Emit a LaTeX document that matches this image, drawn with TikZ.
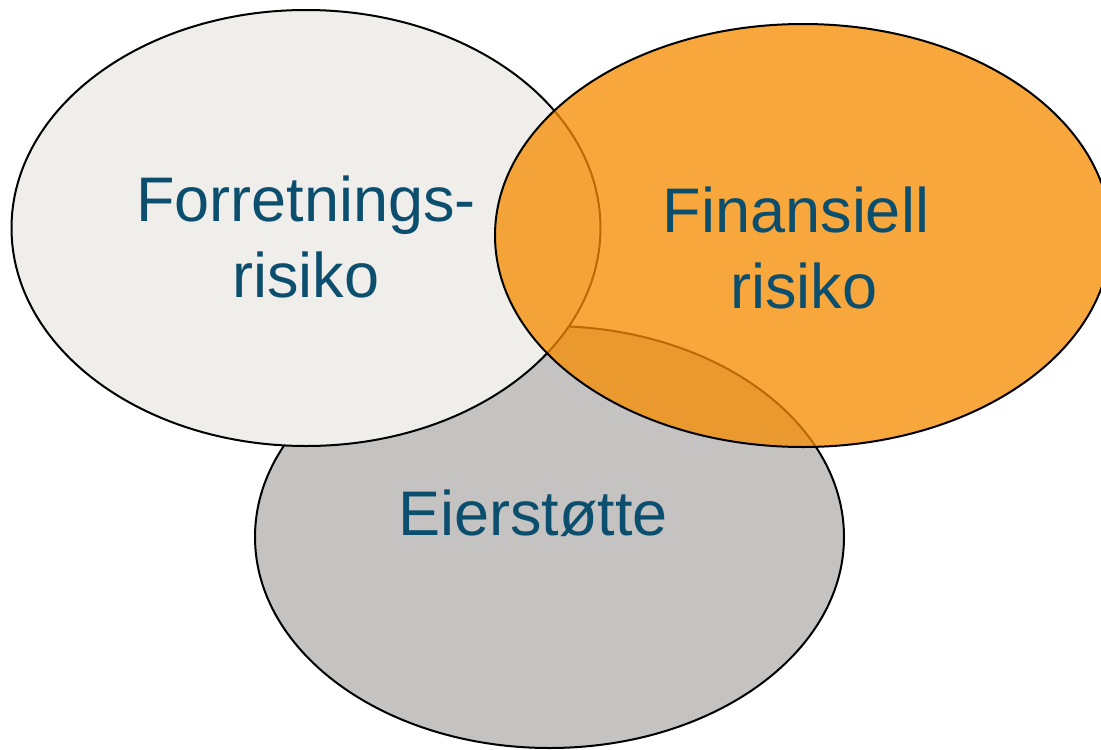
\documentclass[tikz,border=0pt]{standalone}
\usepackage{fontspec}
\setmainfont{Liberation Sans}
\usetikzlibrary{shapes.geometric}
\definecolor{lightfill}{RGB}{240,238,235}
\definecolor{greyfill}{RGB}{196,195,194}
\definecolor{orangefill}{RGB}{246,140,0}
\definecolor{labeltext}{RGB}{12,78,110}
\begin{document}
\begin{tikzpicture}[x=1pt,y=-1pt,
  setshape/.style={ellipse,draw=black,line width=2pt,inner sep=0pt},
  lab/.style={text=labeltext,font=\fontsize{63}{76}\selectfont,align=center,inner sep=0pt,anchor=base}]
\useasboundingbox[fill=white] (0,0) rectangle (1101,750);
\node[setshape,fill=greyfill,minimum width=589pt,minimum height=422pt] (owner) at (549.5,537) {};
\node[setshape,fill=lightfill,minimum width=589pt,minimum height=436pt] (business) at (306,228) {};
\node[setshape,fill=orangefill,fill opacity=0.76,draw opacity=1,minimum width=616pt,minimum height=423pt] (finance) at (803,235.5) {};
\node[lab] (businesslabel) at (306,297) {Forretnings-\\risiko};
\node[lab] (financelabel) at (804,308) {Finansiell\hspace*{16pt}\\risiko};
\node[lab] (ownerlabel) at (533,535) {Eierstøtte};
\end{tikzpicture}
\end{document}
